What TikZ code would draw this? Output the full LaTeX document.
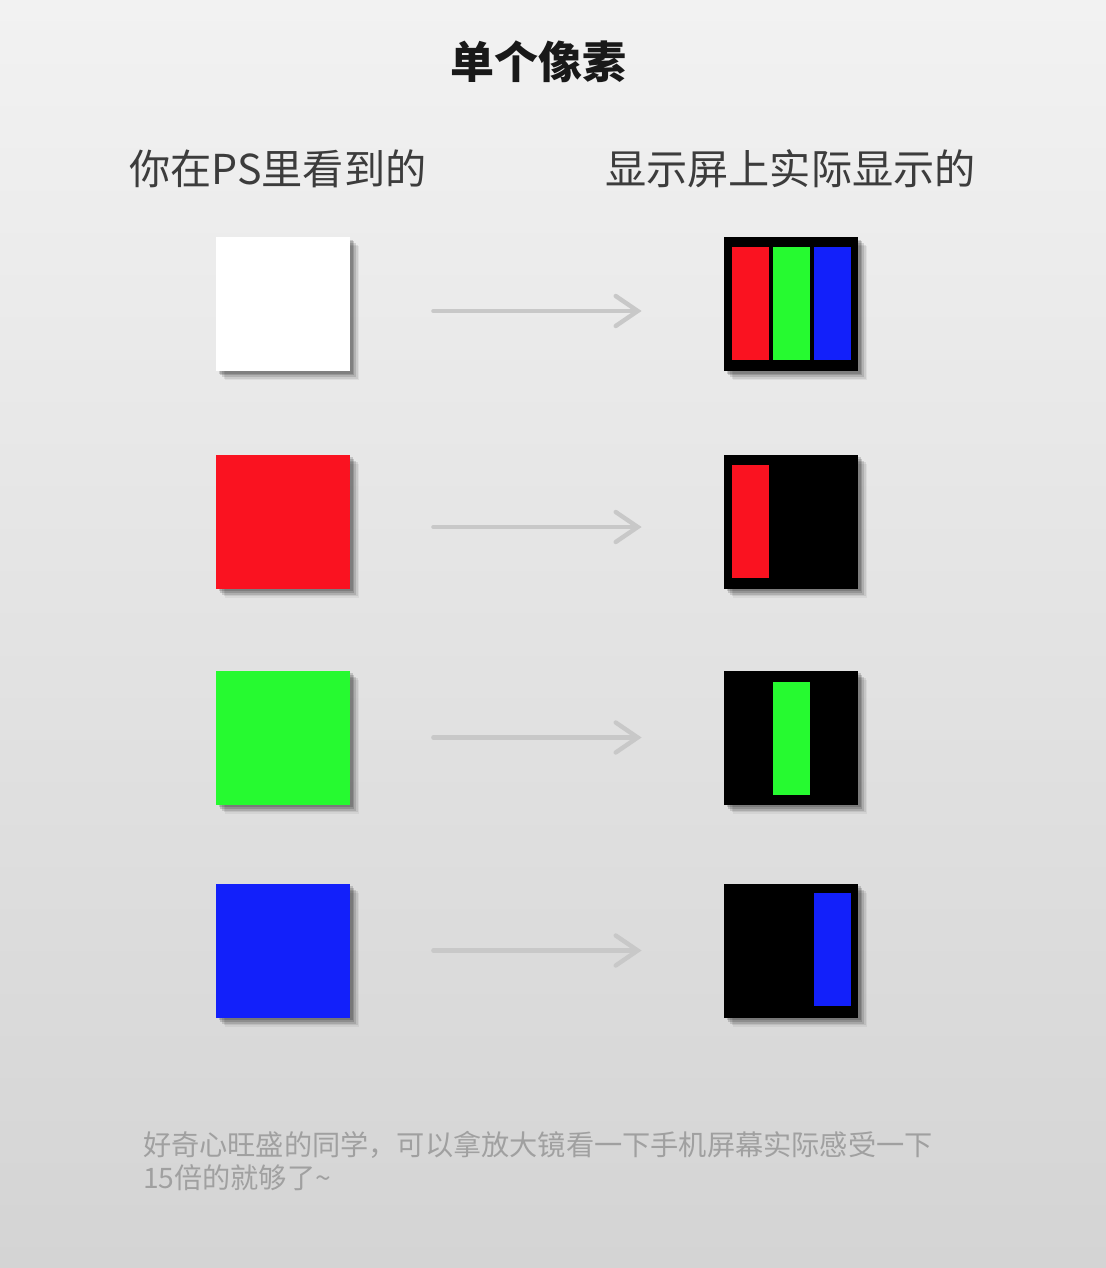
\documentclass[tikz,border=0pt]{standalone}
\usepackage{fontspec}
\newfontfamily\cjk{Noto Sans CJK SC}
\usetikzlibrary{arrows.meta,shadows,calc}
\definecolor{pxred}{RGB}{250,18,32}
\definecolor{pxgreen}{RGB}{38,250,48}
\definecolor{pxblue}{RGB}{18,32,250}
\definecolor{arrowgray}{RGB}{200,200,200}
\definecolor{headgray}{RGB}{60,60,60}
\definecolor{notegray}{RGB}{160,160,160}
\tikzset{
  px/.style={x=0.5pt,y=-0.5pt},
  soft shadow/.style={
    drop shadow={shadow xshift=4.5pt,shadow yshift=-4.5pt,opacity=0.05,fill=black},
    drop shadow={shadow xshift=3.8pt,shadow yshift=-3.8pt,opacity=0.08,fill=black},
    drop shadow={shadow xshift=3pt,shadow yshift=-3pt,opacity=0.12,fill=black},
    drop shadow={shadow xshift=2.2pt,shadow yshift=-2.2pt,opacity=0.15,fill=black},
    drop shadow={shadow xshift=1.4pt,shadow yshift=-1.4pt,opacity=0.15,fill=black}},
  pixbox/.style={draw=none,minimum width=67pt,minimum height=67pt,inner sep=0pt,soft shadow},
  subpix/.style={draw=none,minimum width=18.5pt,minimum height=56.5pt,inner sep=0pt},
  conn/.style={arrowgray,line width=2.2pt,line cap=round,
    -{Straight Barb[length=11pt,width=15pt,line cap=round]},
    shorten <=41.5pt,shorten >=41pt},
  title/.style={font=\cjk\bfseries\fontsize{22pt}{26pt}\selectfont,text=black!90},
  header/.style={font=\cjk\fontsize{20.6pt}{24pt}\selectfont,text=headgray,anchor=west},
  note/.style={font=\cjk\fontsize{14.1pt}{16.5pt}\selectfont,text=notegray,anchor=north west,align=left}
}
\begin{document}
\begin{tikzpicture}[px]
\shade[top color={rgb,255:red,242;green,242;blue,242},bottom color={rgb,255:red,212;green,212;blue,212}] (0,0) rectangle (1106,1268);
\useasboundingbox (0,0) rectangle (1106,1268);

\node[title] (t) at (538,62) {单个像素};
\node[header] (hl) at (122,169) {你在PS里看到的};
\node[header] (hr) at (598,169) {显示屏上实际显示的};

% left pixels
\node[pixbox,fill=white] (w) at (283,304) {};
\node[pixbox,fill=pxred] (r) at (283,521.5) {};
\node[pixbox,fill=pxgreen] (g) at (283,737.5) {};
\node[pixbox,fill=pxblue] (b) at (283,950.5) {};

% right pixels
\node[pixbox,fill=black] (rw) at (791,304) {};
\node[subpix,fill=pxred] (rw1) at (750,303.5) {};
\node[subpix,fill=pxgreen] (rw2) at (791.5,303.5) {};
\node[subpix,fill=pxblue] (rw3) at (832,303.5) {};

\node[pixbox,fill=black] (rr) at (791,521.5) {};
\node[subpix,fill=pxred] (rr1) at (750,521) {};

\node[pixbox,fill=black] (rg) at (791,737.5) {};
\node[subpix,fill=pxgreen] (rg2) at (791.5,738) {};

\node[pixbox,fill=black] (rb) at (791,950.5) {};
\node[subpix,fill=pxblue] (rb3) at (832,949.5) {};

% arrows
\draw[conn] ($(w.east)+(0,7)$) -- ($(rw.west)+(0,7)$);
\draw[conn] ($(r.east)+(0,5.5)$) -- ($(rr.west)+(0,5.5)$);
\draw[conn] (g.east) -- (rg.west);
\draw[conn] (b.east) -- (rb.west);

\node[note] (n) at (136,1124) {好奇心旺盛的同学，可以拿放大镜看一下手机屏幕实际感受一下\\15倍的就够了\textasciitilde};
\end{tikzpicture}
\end{document}
